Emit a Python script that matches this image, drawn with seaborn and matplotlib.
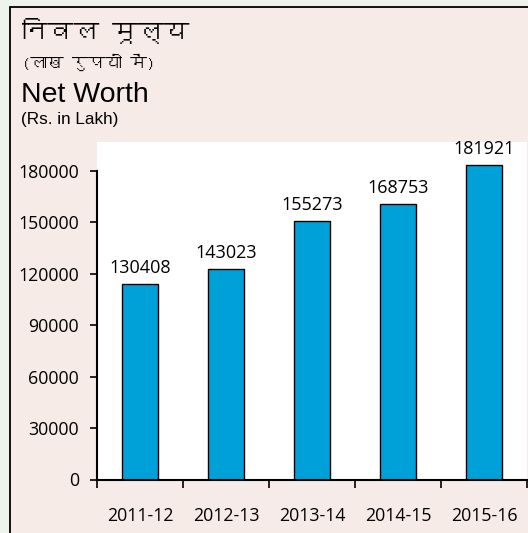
import matplotlib
matplotlib.use("Agg")
import matplotlib.pyplot as plt
import seaborn as sns
from matplotlib import font_manager
from matplotlib.ft2font import FT2Font
from matplotlib.patches import Rectangle

# values
years = ["2011-12", "2012-13", "2013-14", "2014-15", "2015-16"]
bar_heights = [113900, 122800, 150600, 160900, 183700]
bar_labels = ["130408", "143023", "155273", "168753", "181921"]
y_ticks = [0, 30000, 60000, 90000, 120000, 150000, 180000]

title_hi = "निवल मूल्य"
sub_hi = "(लाख रुपयों में)"
title_en = "Net Worth"
sub_en = "(Rs. in Lakh)"


def find_font(ch):
    # first installed family that has this glyph
    for f in font_manager.fontManager.ttflist:
        try:
            if ord(ch) in FT2Font(f.fname).get_charmap():
                return f.name
        except Exception:
            pass
    return None


deva = find_font("न")
deva_family = [deva, "DejaVu Sans"] if deva else ["DejaVu Sans"]

sns.set_style("white")
plt.rcParams["font.family"] = ["Open Sans", "DejaVu Sans"]
plt.rcParams["text.color"] = "black"

fig = plt.figure(figsize=(5.28, 5.33), dpi=100, facecolor="#eef4ea")
# textured panel behind everything
fig.patches.append(Rectangle((10 / 528, -0.01), 1.0, 1 - 7 / 533 + 0.01,
                             transform=fig.transFigure, facecolor="#f7ebe7",
                             edgecolor="black", linewidth=1.3, zorder=-5))

ax = fig.add_axes([97 / 528, 1 - 479.5 / 533, 430 / 528, (479.5 - 142) / 533])
ax.set_zorder(2)
ax.set_facecolor("white")

sns.barplot(x=years, y=bar_heights, color="#00a1d8", saturation=1,
            edgecolor="black", linewidth=1.0, width=0.41, ax=ax)
ax.bar_label(ax.containers[0], labels=bar_labels, padding=5, fontsize=13,
             color="black")

ax.set_ylim(0, 196900)
ax.set_xlim(-0.5, 4.5)
ax.set_yticks(y_ticks)
ax.set_yticklabels([str(v) for v in y_ticks])
ax.set_xlabel("")
ax.set_ylabel("")

for s in ["top", "right"]:
    ax.spines[s].set_visible(False)
ax.spines["left"].set_bounds(0, 180000)
for s in ["left", "bottom"]:
    ax.spines[s].set_color("black")
    ax.spines[s].set_linewidth(1.5)

ax.tick_params(axis="y", which="major", left=True, length=5, width=1.2,
               pad=8, labelsize=12.8, colors="black")
ax.set_xticks([i - 0.5 for i in range(len(years) + 1)], minor=True)
ax.tick_params(axis="x", which="minor", bottom=True, length=6, width=1.2,
               color="black")
ax.tick_params(axis="x", which="major", bottom=False, pad=16,
               labelsize=12.8, labelcolor="black")

# header text
fig.text(22 / 528, 1 - 41 / 533, title_hi, family=deva_family, fontsize=18.5,
         fontweight="bold", va="baseline", ha="left", color="black")
fig.text(22 / 528, 1 - 69 / 533, sub_hi, family=deva_family, fontsize=12,
         fontweight="bold", va="baseline", ha="left", color="black")
fig.text(21 / 528, 1 - 102 / 533, title_en, family="Liberation Sans",
         fontsize=20.5, va="baseline", ha="left", color="black")
fig.text(21 / 528, 1 - 124 / 533, sub_en, family="Liberation Sans",
         fontsize=12.3, va="baseline", ha="left", color="black")

fig.savefig("out.png", dpi=100, facecolor=fig.get_facecolor())
